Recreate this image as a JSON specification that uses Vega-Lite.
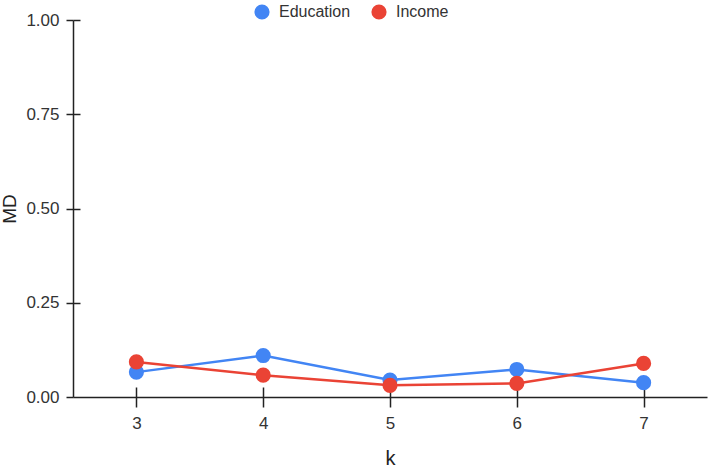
{
  "$schema": "https://vega.github.io/schema/vega-lite/v6.json",
  "width": 634,
  "height": 377,
  "autosize": {"type": "none"},
  "padding": {"left": 73, "top": 20, "right": 3, "bottom": 72},
  "background": "white",
  "config": {
    "font": "Liberation Sans",
    "view": {"stroke": null},
    "axis": {"grid": false, "domainColor": "#222", "tickColor": "#222", "domainWidth": 1.5, "tickWidth": 1.5, "labelColor": "#333", "titleColor": "#222", "labelFontSize": 17, "titleFontSize": 19, "titleFontWeight": "normal", "labelFont": "Liberation Sans", "titleFont": "Liberation Sans"}
  },
  "data": {"values": [
    {"k": 3, "series": "Education", "MD": 0.066},
    {"k": 4, "series": "Education", "MD": 0.110},
    {"k": 5, "series": "Education", "MD": 0.045},
    {"k": 6, "series": "Education", "MD": 0.073},
    {"k": 7, "series": "Education", "MD": 0.038},
    {"k": 3, "series": "Income", "MD": 0.093},
    {"k": 4, "series": "Income", "MD": 0.058},
    {"k": 5, "series": "Income", "MD": 0.031},
    {"k": 6, "series": "Income", "MD": 0.036},
    {"k": 7, "series": "Income", "MD": 0.089}
  ]},
  "layer": [
    {
      "mark": {"type": "line", "strokeWidth": 2.5},
      "encoding": {
        "x": {"field": "k", "type": "quantitative", "scale": {"domain": [2.5, 7.5], "nice": false, "zero": false},
              "axis": {"values": [3, 4, 5, 6, 7], "format": "d", "tickSize": 10, "labelPadding": 8, "title": "k", "titlePadding": 17, "titleFontSize": 20}},
        "y": {"field": "MD", "type": "quantitative", "scale": {"domain": [0, 1], "nice": false},
              "axis": {"values": [0, 0.25, 0.5, 0.75, 1], "format": ".2f", "tickSize": 7, "labelPadding": 7, "title": "MD", "titlePadding": 6}},
        "color": {"field": "series", "type": "nominal", "scale": {"domain": ["Education", "Income"], "range": ["#4285F4", "#EA4335"]},
                  "legend": {"orient": "none", "direction": "horizontal", "legendX": 181, "legendY": -16, "title": null, "symbolType": "circle", "symbolSize": 230, "symbolStrokeWidth": 0, "labelFontSize": 16, "labelColor": "#333", "labelFont": "Liberation Sans", "labelOffset": 9, "columnPadding": 20,
                             "encode": {"symbols": {"update": {"fill": {"field": "value", "scale": "color"}, "fillOpacity": {"value": 1}}}}}},
        "order": {"field": "k"}
      }
    },
    {
      "mark": {"type": "point", "filled": true, "opacity": 1, "size": 230, "shape": "circle"},
      "encoding": {
        "x": {"field": "k", "type": "quantitative", "axis": {"orient": "bottom", "values": [3, 4, 5, 6, 7], "tickSize": -10, "labels": false, "domain": false, "title": null}},
        "y": {"field": "MD", "type": "quantitative", "axis": {"orient": "left", "values": [0.25, 0.5, 0.75, 1], "tickSize": -7, "labels": false, "domain": false, "title": null}},
        "color": {"field": "series", "type": "nominal"}
      }
    }
  ],
  "resolve": {"axis": {"x": "independent", "y": "independent"}}
}
